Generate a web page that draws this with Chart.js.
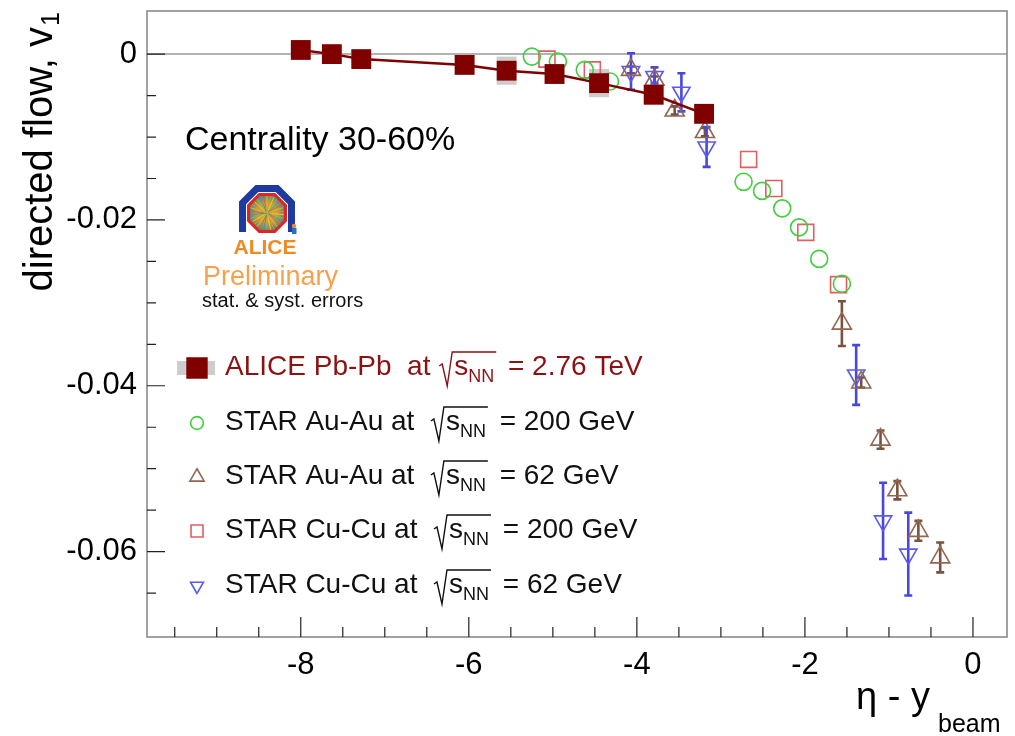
<!DOCTYPE html>
<html>
<head>
<meta charset="utf-8">
<script src="https://cdn.jsdelivr.net/npm/chart.js@4.4.1/dist/chart.umd.min.js"></script>
<style>
html, body { margin: 0; padding: 0; background: #fff; }
#wrap { width: 1015px; height: 736px; }
</style>
</head>
<body>
<div id="wrap"><canvas id="flow" width="1015" height="736"></canvas></div>
<script>
// v1 vs eta - y_beam, centrality 30-60%

// ALICE Pb-Pb 2.76 TeV
const aliceX = [-8.0, -7.63, -7.28, -6.05, -5.55, -4.98, -4.45, -3.80, -3.20];
const aliceY = [0.0005, 0.0000, -0.0006, -0.0013, -0.0020, -0.0024, -0.0035, -0.0049, -0.0072];
const aliceSyst = [0.0011, 0.0011, 0.0011, 0.0012, 0.0017, 0.0012, 0.0017, 0.0012, 0.0012];

// STAR Au-Au 200 GeV
const au200X = [-5.25, -4.94, -4.62, -4.32, -2.73, -2.51, -2.27, -2.07, -1.83, -1.56];
const au200Y = [-0.0003, -0.0009, -0.0019, -0.0033, -0.0154, -0.0165, -0.0186, -0.0209, -0.0247, -0.0277];

// STAR Au-Au 62 GeV
const au62X = [-4.07, -3.79, -3.55, -3.19, -1.56, -1.33, -1.10, -0.90, -0.65, -0.39];
const au62Y = [-0.0019, -0.0031, -0.0068, -0.0094, -0.0325, -0.0396, -0.0465, -0.0526, -0.0575, -0.0607];
const au62Err = [0.0004, 0.0004, 0.0005, 0.0005, 0.0027, 0.0006, 0.0011, 0.0011, 0.0012, 0.0018];

// STAR Cu-Cu 200 GeV
const cu200X = [-5.07, -4.53, -2.67, -2.37, -1.99, -1.60];
const cu200Y = [-0.0006, -0.0019, -0.0127, -0.0162, -0.0215, -0.0278];

// STAR Cu-Cu 62 GeV
const cu62X = [-4.07, -3.79, -3.47, -3.17, -1.39, -1.07, -0.77];
const cu62Y = [-0.0021, -0.0027, -0.0046, -0.0112, -0.0387, -0.0563, -0.0603];
const cu62Err = [0.0022, 0.0011, 0.0023, 0.0024, 0.0036, 0.0046, 0.0050];

// axis ticks
const xMajor = [-8, -6, -4, -2, 0];
const xMinor = [-9.5, -9, -8.5, -7.5, -7, -6.5, -5.5, -5, -4.5, -3.5, -3, -2.5, -1.5, -1, -0.5];
const yMajor = [0, -0.02, -0.04, -0.06];
const yMinor = [-0.005, -0.01, -0.015, -0.025, -0.03, -0.035, -0.045, -0.05, -0.055, -0.065];

const FONT = "'Liberation Sans', Arial, Helvetica, sans-serif";

const pts = (xs, ys) => xs.map((x, i) => ({ x, y: ys[i] }));

// open marker dataset helper
function openSeries(label, xs, ys, color, style, radius, rotation) {
    return {
        label,
        data: pts(xs, ys),
        pointStyle: style,
        pointRadius: radius,
        pointRotation: rotation || 0,
        borderColor: color,
        backgroundColor: 'rgba(0,0,0,0)',
        pointBorderWidth: 1.6,
        showLine: false
    };
}

// text with sqrt(s_NN) pieces
function drawRich(ctx, x, y, parts, size, color) {
    ctx.fillStyle = color;
    ctx.strokeStyle = color;
    ctx.textBaseline = 'alphabetic';
    ctx.textAlign = 'left';
    let cx = x;
    const big = size + 'px ' + FONT;
    const small = Math.round(size * 0.64) + 'px ' + FONT;
    parts.forEach(p => {
        if (typeof p === 'string') {
            ctx.font = big;
            ctx.fillText(p, cx, y);
            cx += ctx.measureText(p).width;
            return;
        }
        // radical
        ctx.font = big;
        const ws = ctx.measureText(p[0]).width;
        ctx.font = small;
        const wn = ctx.measureText(p[1]).width;
        const x0 = cx + 1;
        ctx.lineWidth = 1.4;
        ctx.beginPath();
        ctx.moveTo(x0, y - 9);
        ctx.lineTo(x0 + 3, y - 11);
        ctx.lineTo(x0 + 8, y + 11);
        ctx.lineTo(x0 + 13, y - 23);
        ctx.lineTo(x0 + 15 + ws + wn + 2, y - 23);
        ctx.stroke();
        ctx.font = big;
        ctx.fillText(p[0], x0 + 15, y);
        ctx.font = small;
        ctx.fillText(p[1], x0 + 15 + ws, y + 7);
        cx = x0 + 15 + ws + wn + 6;
    });
}

function octagonPoint(cx, cy, r, k) {
    const a = Math.PI / 8 + k * Math.PI / 4;
    return [cx + r * Math.cos(a), cy + r * Math.sin(a)];
}

function drawLogo(ctx, cx, cy) {
    ctx.save();
    // blue frame, open at the bottom
    const R = 26.5;
    ctx.strokeStyle = '#1d3b9e';
    ctx.lineWidth = 7;
    ctx.lineJoin = 'miter';
    ctx.beginPath();
    const c = Math.cos(Math.PI / 8) * R;
    ctx.moveTo(cx - c, cy + 19);
    [3, 4, 5, 6, 7, 0].forEach(k => {
        const p = octagonPoint(cx, cy, R, k);
        ctx.lineTo(p[0], p[1]);
    });
    ctx.lineTo(cx + c, cy + 19);
    ctx.stroke();
    // red detector ring with tracks
    const r = 20;
    const g = ctx.createRadialGradient(cx, cy, 1, cx, cy, r);
    g.addColorStop(0, '#ffb020');
    g.addColorStop(0.45, '#d7a03a');
    g.addColorStop(1, '#3f7f8c');
    ctx.fillStyle = g;
    ctx.beginPath();
    for (let k = 0; k < 8; k++) {
        const p = octagonPoint(cx, cy, r, k);
        k ? ctx.lineTo(p[0], p[1]) : ctx.moveTo(p[0], p[1]);
    }
    ctx.closePath();
    ctx.fill();
    const rayCols = ['#f7c520', '#78c043', '#2a9bd6', '#e9582c', '#a0d040', '#f08a24'];
    ctx.lineWidth = 1;
    for (let i = 0; i < 30; i++) {
        const a = i * Math.PI * 2 / 30 + 0.1;
        ctx.strokeStyle = rayCols[i % rayCols.length];
        ctx.beginPath();
        ctx.moveTo(cx, cy);
        ctx.lineTo(cx + 17 * Math.cos(a), cy + 17 * Math.sin(a));
        ctx.stroke();
    }
    ctx.strokeStyle = '#e02424';
    ctx.lineWidth = 3;
    ctx.beginPath();
    for (let k = 0; k < 8; k++) {
        const p = octagonPoint(cx, cy, r, k);
        k ? ctx.lineTo(p[0], p[1]) : ctx.moveTo(p[0], p[1]);
    }
    ctx.closePath();
    ctx.stroke();
    // little figure
    ctx.fillStyle = '#f08a24';
    ctx.beginPath(); ctx.arc(cx + 27, cy + 13, 2.2, 0, Math.PI * 2); ctx.fill();
    ctx.fillStyle = '#2a6fc0';
    ctx.fillRect(cx + 25, cy + 15, 4.5, 6);
    ctx.restore();
}

const errorBars = {
    id: 'errorBars',
    beforeDatasetsDraw(chart) {
        const { ctx, scales: { x, y } } = chart;
        ctx.save();
        // zero line
        ctx.strokeStyle = '#9a9a9a';
        ctx.lineWidth = 1.5;
        const y0 = y.getPixelForValue(0);
        ctx.beginPath();
        ctx.moveTo(chart.chartArea.left, y0);
        ctx.lineTo(chart.chartArea.right, y0);
        ctx.stroke();
        // ALICE systematic boxes
        ctx.fillStyle = '#cdcdcd';
        aliceX.forEach((v, i) => {
            const cx = x.getPixelForValue(v);
            const t = y.getPixelForValue(aliceY[i] + aliceSyst[i]);
            const b = y.getPixelForValue(aliceY[i] - aliceSyst[i]);
            ctx.fillRect(cx - 10, t, 20, b - t);
        });
        // statistical error bars
        chart.data.datasets.forEach(ds => {
            if (!ds.errY) return;
            ctx.strokeStyle = ds.errColor;
            ctx.lineWidth = 2.6;
            ds.data.forEach((p, i) => {
                const cx = x.getPixelForValue(p.x);
                const t = y.getPixelForValue(p.y + ds.errY[i]);
                const b = y.getPixelForValue(p.y - ds.errY[i]);
                ctx.beginPath();
                ctx.moveTo(cx, t); ctx.lineTo(cx, b);
                ctx.moveTo(cx - 4, t); ctx.lineTo(cx + 4, t);
                ctx.moveTo(cx - 4, b); ctx.lineTo(cx + 4, b);
                ctx.stroke();
            });
        });
        ctx.restore();
    }
};

const frameAndText = {
    id: 'frameAndText',
    afterDraw(chart) {
        const { ctx, chartArea: a, scales: { x, y } } = chart;
        ctx.save();
        // frame
        ctx.strokeStyle = '#8a8a8a';
        ctx.lineWidth = 1.6;
        ctx.strokeRect(a.left, a.top, a.right - a.left, a.bottom - a.top);
        // inward ticks
        ctx.strokeStyle = '#222';
        ctx.lineWidth = 1.2;
        ctx.beginPath();
        xMajor.forEach(v => { const p = x.getPixelForValue(v); ctx.moveTo(p, a.bottom); ctx.lineTo(p, a.bottom - 20); });
        xMinor.forEach(v => { const p = x.getPixelForValue(v); ctx.moveTo(p, a.bottom); ctx.lineTo(p, a.bottom - 10); });
        yMajor.forEach(v => { const p = y.getPixelForValue(v); ctx.moveTo(a.left, p); ctx.lineTo(a.left + 18, p); });
        yMinor.forEach(v => { const p = y.getPixelForValue(v); ctx.moveTo(a.left, p); ctx.lineTo(a.left + 9, p); });
        ctx.stroke();

        // axis titles
        ctx.fillStyle = '#000';
        ctx.textBaseline = 'alphabetic';
        ctx.font = '38px ' + FONT;
        ctx.textAlign = 'left';
        ctx.fillText('\u03B7 - y', 856, 709);
        ctx.font = '25px ' + FONT;
        ctx.fillText('beam', 938, 732);

        ctx.save();
        ctx.translate(52, 12);
        ctx.rotate(-Math.PI / 2);
        ctx.textAlign = 'right';
        ctx.font = '25px ' + FONT;
        const w1 = ctx.measureText('1').width;
        ctx.fillText('1', 0, 7);
        ctx.font = '40px ' + FONT;
        ctx.fillText('directed flow, v', -w1 - 1, 0);
        ctx.restore();

        // labels in the pad
        ctx.textAlign = 'left';
        ctx.fillStyle = '#000';
        ctx.font = '34px ' + FONT;
        ctx.fillText('Centrality 30-60%', 185, 150);

        drawLogo(ctx, 267, 213);
        ctx.fillStyle = '#f08a24';
        ctx.font = 'bold 21px ' + FONT;
        ctx.textAlign = 'center';
        ctx.fillText('ALICE', 265, 254);
        ctx.textAlign = 'left';
        ctx.fillStyle = '#f9a04a';
        ctx.font = '27px ' + FONT;
        ctx.fillText('Preliminary', 203, 285);
        ctx.fillStyle = '#111';
        ctx.font = '20px ' + FONT;
        ctx.fillText('stat. & syst. errors', 202, 307);

        // legend
        const H = Chart.helpers;
        const rows = [
            { base: 375, color: '#8a1212', parts: ['ALICE Pb-Pb  at ', ['s', 'NN'], ' = 2.76 TeV'] },
            { base: 430, color: '#111', parts: ['STAR Au-Au at  ', ['s', 'NN'], ' = 200 GeV'] },
            { base: 484, color: '#111', parts: ['STAR Au-Au at  ', ['s', 'NN'], ' = 62 GeV'] },
            { base: 538, color: '#111', parts: ['STAR Cu-Cu at  ', ['s', 'NN'], ' = 200 GeV'] },
            { base: 593, color: '#111', parts: ['STAR Cu-Cu at  ', ['s', 'NN'], ' = 62 GeV'] }
        ];
        rows.forEach((r, i) => {
            const my = r.base - 7;
            const ds = chart.data.datasets[i];
            if (i === 0) {
                ctx.fillStyle = '#cdcdcd';
                ctx.fillRect(177, my - 7, 38, 14);
            }
            ctx.save();
            ctx.strokeStyle = ds.borderColor;
            ctx.fillStyle = i === 0 ? ds.pointBackgroundColor : 'rgba(0,0,0,0)';
            ctx.lineWidth = 1.6;
            const rad = i === 0 ? 14 : ds.pointRadius * 0.75;
            H.drawPoint(ctx, { pointStyle: ds.pointStyle, radius: rad, rotation: ds.pointRotation || 0, borderWidth: 1.6 }, 197, my);
            ctx.restore();
            drawRich(ctx, 225, r.base, r.parts, 28, r.color);
        });
        ctx.restore();
    }
};

const alice = {
    label: 'ALICE Pb-Pb',
    data: pts(aliceX, aliceY),
    showLine: true,
    borderColor: '#800000',
    borderWidth: 2.5,
    pointStyle: 'rect',
    pointRadius: 14,
    pointBackgroundColor: '#800000',
    pointBorderColor: '#800000',
    pointBorderWidth: 0
};
const au200 = openSeries('STAR Au-Au 200', au200X, au200Y, '#3fcf3f', 'circle', 8.5);
const au62 = openSeries('STAR Au-Au 62', au62X, au62Y, '#946650', 'triangle', 11);
au62.errY = au62Err;
au62.errColor = '#7a5240';
const cu200 = openSeries('STAR Cu-Cu 200', cu200X, cu200Y, '#de6060', 'rect', 11.3);
const cu62 = openSeries('STAR Cu-Cu 62', cu62X, cu62Y, '#5a5af0', 'triangle', 10, 180);
cu62.errY = cu62Err;
cu62.errColor = '#4848e0';

// keep the plot frame where the reference has it
const noPad = s => { s.paddingTop = 0; s.paddingBottom = 0; s.paddingLeft = 0; s.paddingRight = 0; };

new Chart(document.getElementById('flow'), {
    type: 'scatter',
    data: { datasets: [alice, au200, au62, cu200, cu62] },
    options: {
        responsive: false,
        animation: false,
        devicePixelRatio: 1,
        layout: { autoPadding: false, padding: { top: 11, right: 8, left: 0, bottom: 0 } },
        plugins: { legend: { display: false }, tooltip: { enabled: false } },
        scales: {
            x: {
                type: 'linear',
                min: -9.83,
                max: 0.405,
                grid: { display: false, drawTicks: false },
                border: { display: false },
                afterBuildTicks: s => { s.ticks = xMajor.map(v => ({ value: v })); },
                afterFit: s => { s.height = 99; noPad(s); },
                ticks: {
                    autoSkip: false,
                    maxRotation: 0,
                    padding: 10,
                    color: '#000',
                    font: { family: FONT, size: 31 },
                    callback: v => String(v)
                }
            },
            y: {
                type: 'linear',
                min: -0.0703,
                max: 0.0052,
                grid: { display: false, drawTicks: false },
                border: { display: false },
                afterBuildTicks: s => { s.ticks = yMajor.map(v => ({ value: v })); },
                afterFit: s => { s.width = 147; noPad(s); },
                ticks: {
                    autoSkip: false,
                    padding: 10,
                    color: '#000',
                    font: { family: FONT, size: 31 },
                    callback: v => (v === 0 ? '0' : v.toFixed(2))
                }
            }
        }
    },
    plugins: [errorBars, frameAndText]
});
</script>
</body>
</html>
